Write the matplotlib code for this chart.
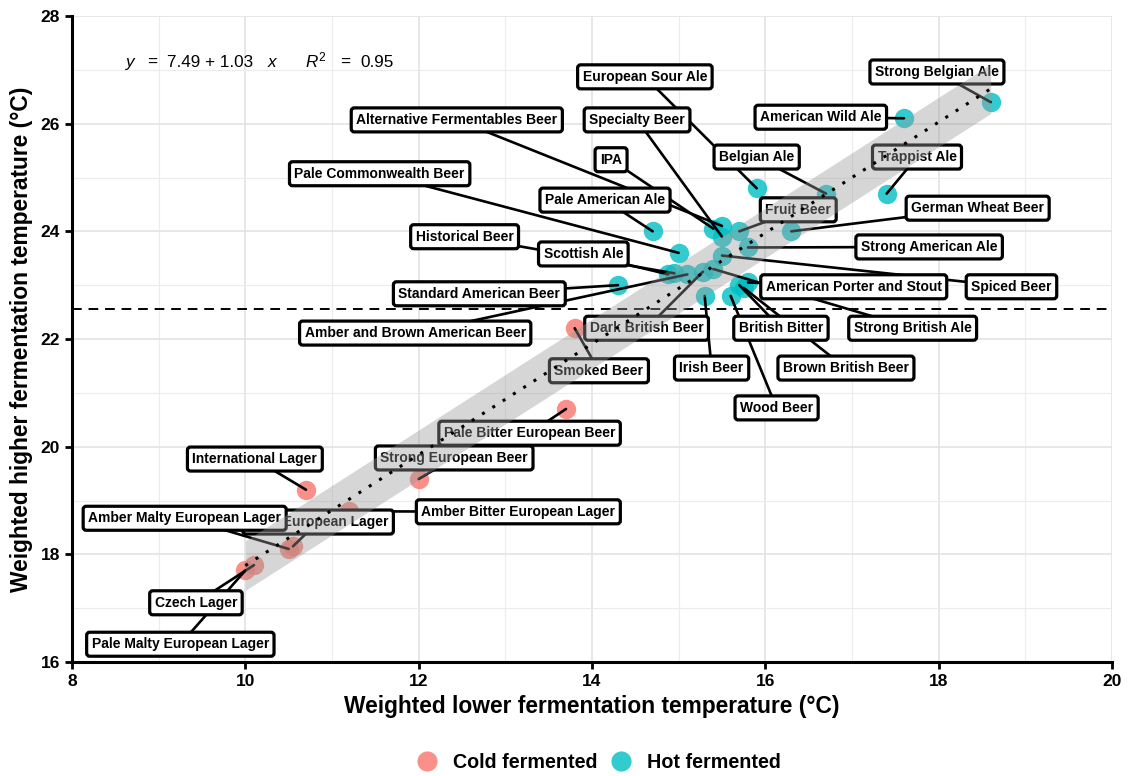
import matplotlib.pyplot as plt
from matplotlib.lines import Line2D
import numpy as np

plt.rcParams['font.family'] = ['Liberation Sans', 'DejaVu Sans']
plt.rcParams['mathtext.fontset'] = 'custom'
plt.rcParams['mathtext.rm'] = 'Liberation Sans'
plt.rcParams['mathtext.it'] = 'Liberation Sans:italic'

# beer styles, weighted fermentation temperatures
cold_styles = ['Pale Malty European Lager', 'Czech Lager', 'Dark European Lager',
               'Amber Malty European Lager', 'Amber Bitter European Lager',
               'International Lager', 'Strong European Beer',
               'Pale Bitter European Beer', 'Smoked Beer']
cold_lower = [10.0, 10.1, 10.55, 10.5, 11.2, 10.7, 12.0, 13.7, 13.8]
cold_higher = [17.7, 17.8, 18.15, 18.1, 18.8, 19.2, 19.4, 20.7, 22.2]

hot_styles = ['Strong Belgian Ale', 'American Wild Ale', 'Trappist Ale', 'Belgian Ale',
              'European Sour Ale', 'German Wheat Beer', 'Fruit Beer', 'Strong American Ale',
              'Alternative Fermentables Beer', 'IPA', 'Specialty Beer', 'Spiced Beer',
              'Strong British Ale', 'Dark British Beer', 'Amber and Brown American Beer',
              'Historical Beer', 'Scottish Ale', 'Pale Commonwealth Beer', 'Pale American Ale',
              'Standard American Beer', 'American Porter and Stout', 'British Bitter',
              'Brown British Beer', 'Wood Beer', 'Irish Beer']
hot_lower = [18.6, 17.6, 17.4, 16.7, 15.9, 16.3, 15.7, 15.8, 15.5, 15.4, 15.5, 15.5,
             15.4, 15.28, 15.1, 14.95, 14.88, 15.0, 14.7, 14.3, 15.8, 15.7, 15.75, 15.6, 15.3]
hot_higher = [26.4, 26.1, 24.7, 24.7, 24.8, 24.0, 24.0, 23.7, 24.1, 24.05, 23.9, 23.55,
              23.3, 23.25, 23.2, 23.22, 23.2, 23.6, 24.0, 23.0, 23.05, 23.0, 22.95, 22.8, 22.8]

fit_intercept = 7.49
fit_slope = 1.03
fit_r2 = 0.95
band_half = 0.46
threshold = 22.56

# label box centres (layout only)
label_pos = {
    'Strong Belgian Ale': (17.98, 26.96), 'American Wild Ale': (16.64, 26.12),
    'European Sour Ale': (14.61, 26.87), 'Alternative Fermentables Beer': (12.44, 26.07),
    'Specialty Beer': (14.52, 26.07), 'IPA': (14.22, 25.33), 'Belgian Ale': (15.90, 25.38),
    'Trappist Ale': (17.75, 25.38), 'Pale Commonwealth Beer': (11.55, 25.07),
    'Pale American Ale': (14.15, 24.58), 'Fruit Beer': (16.38, 24.40),
    'German Wheat Beer': (18.45, 24.43), 'Historical Beer': (12.53, 23.90),
    'Strong American Ale': (17.89, 23.71), 'Scottish Ale': (13.90, 23.58),
    'Standard American Beer': (12.70, 22.84), 'American Porter and Stout': (17.02, 22.97),
    'Spiced Beer': (18.84, 22.97), 'Amber and Brown American Beer': (11.96, 22.11),
    'Dark British Beer': (14.63, 22.20), 'British Bitter': (16.18, 22.20),
    'Strong British Ale': (17.70, 22.20), 'Smoked Beer': (14.08, 21.41),
    'Irish Beer': (15.38, 21.46), 'Brown British Beer': (16.93, 21.46),
    'Wood Beer': (16.13, 20.72), 'Pale Bitter European Beer': (13.28, 20.25),
    'International Lager': (10.11, 19.77), 'Strong European Beer': (12.41, 19.79),
    'Amber Bitter European Lager': (13.15, 18.79), 'Dark European Lager': (10.84, 18.60),
    'Amber Malty European Lager': (9.30, 18.67), 'Czech Lager': (9.43, 17.10),
    'Pale Malty European Lager': (9.25, 16.33),
}

cold_col = '#F8766D'
hot_col = '#00BFC4'
box = dict(boxstyle='round,pad=0.36,rounding_size=0.22', fc='white', ec='black', lw=2.3)

fig = plt.figure(figsize=(11.28, 7.76), dpi=100)
ax = fig.add_axes([72 / 1128, 114 / 776, 1040 / 1128, 646 / 776])

ax.scatter(cold_lower, cold_higher, s=195, color=cold_col, alpha=0.8, lw=0, zorder=2)
ax.scatter(hot_lower, hot_higher, s=195, color=hot_col, alpha=0.8, lw=0, zorder=2)

names = cold_styles + hot_styles
xs_all = cold_lower + hot_lower
ys_all = cold_higher + hot_higher

# segments first, then boxes on top of every segment
for name, px, py in zip(names, xs_all, ys_all):
    ax.annotate(name, xy=(px, py), xytext=label_pos[name], ha='center', va='center',
                fontsize=10, fontweight='bold', color='none',
                bbox=dict(box, fc='none', ec='none'),
                arrowprops=dict(arrowstyle='-', color='black', lw=1.9, shrinkA=0, shrinkB=0),
                zorder=3, annotation_clip=False)
for name in names:
    lx, ly = label_pos[name]
    ax.text(lx, ly, name, ha='center', va='center', fontsize=10, fontweight='bold',
            bbox=box, zorder=4)

# regression line with band
xf = np.linspace(min(xs_all), max(xs_all), 100)
yf = fit_intercept + fit_slope * xf
ax.fill_between(xf, yf - band_half, yf + band_half, color='#999999', alpha=0.4, lw=0, zorder=5)
ax.plot(xf, yf, color='black', ls=(0, (1, 3)), lw=2.2, zorder=6)

ax.axhline(threshold, color='black', lw=1.4, ls=(0, (5, 3.5)), zorder=1.5)

# fitted equation, pieces placed like the original plotmath layout
eq_y = 27.05
for s, x0 in [(r'$y$', 8.612), ('=', 8.865), (f'{fit_intercept:.2f} + {fit_slope:.2f}', 9.096),
              (r'$x$', 10.25), (r'$R^2$', 10.688), ('=', 11.092), (f'{fit_r2:.2f}', 11.323)]:
    ax.text(x0, eq_y, s, fontsize=12.3, ha='left', va='baseline')

ax.set_xlim(8, 20)
ax.set_ylim(16, 28)
ax.set_xticks(range(8, 21, 2))
ax.set_yticks(range(16, 29, 2))
ax.set_xticks(range(9, 20, 2), minor=True)
ax.set_yticks(range(17, 28, 2), minor=True)
ax.grid(which='major', color='#E3E3E3', lw=1.2, zorder=0)
ax.grid(which='minor', color='#ECECEC', lw=0.8, zorder=0)
ax.set_axisbelow(True)
for s in ['top', 'right']:
    ax.spines[s].set_visible(False)
for s in ['left', 'bottom']:
    ax.spines[s].set_linewidth(2.2)
ax.tick_params(which='major', length=5, width=2, direction='out', labelsize=12.5)
ax.tick_params(which='minor', length=0)
for lbl in ax.get_xticklabels() + ax.get_yticklabels():
    lbl.set_fontweight('bold')

fig.text(592 / 1128, 1 - 706 / 776, 'Weighted lower fermentation temperature (°C)',
         ha='center', va='center', fontsize=16.4, fontweight='bold')
fig.text(22 / 1128, 1 - 339 / 776, 'Weighted higher fermentation temperature (°C)',
         ha='center', va='center', rotation=90, fontsize=16.4, fontweight='bold')

handles = [Line2D([], [], ls='none', marker='o', ms=14.5, mew=0, color=cold_col, alpha=0.8),
           Line2D([], [], ls='none', marker='o', ms=14.5, mew=0, color=hot_col, alpha=0.8)]
fig.legend(handles, ['Cold fermented', 'Hot fermented'], loc='center',
           bbox_to_anchor=(594 / 1128, 1 - 762 / 776), ncol=2, frameon=False,
           prop={'size': 14.2, 'weight': 'bold'}, handletextpad=0.35, columnspacing=0.15)

fig.savefig('out.png', dpi=100)
